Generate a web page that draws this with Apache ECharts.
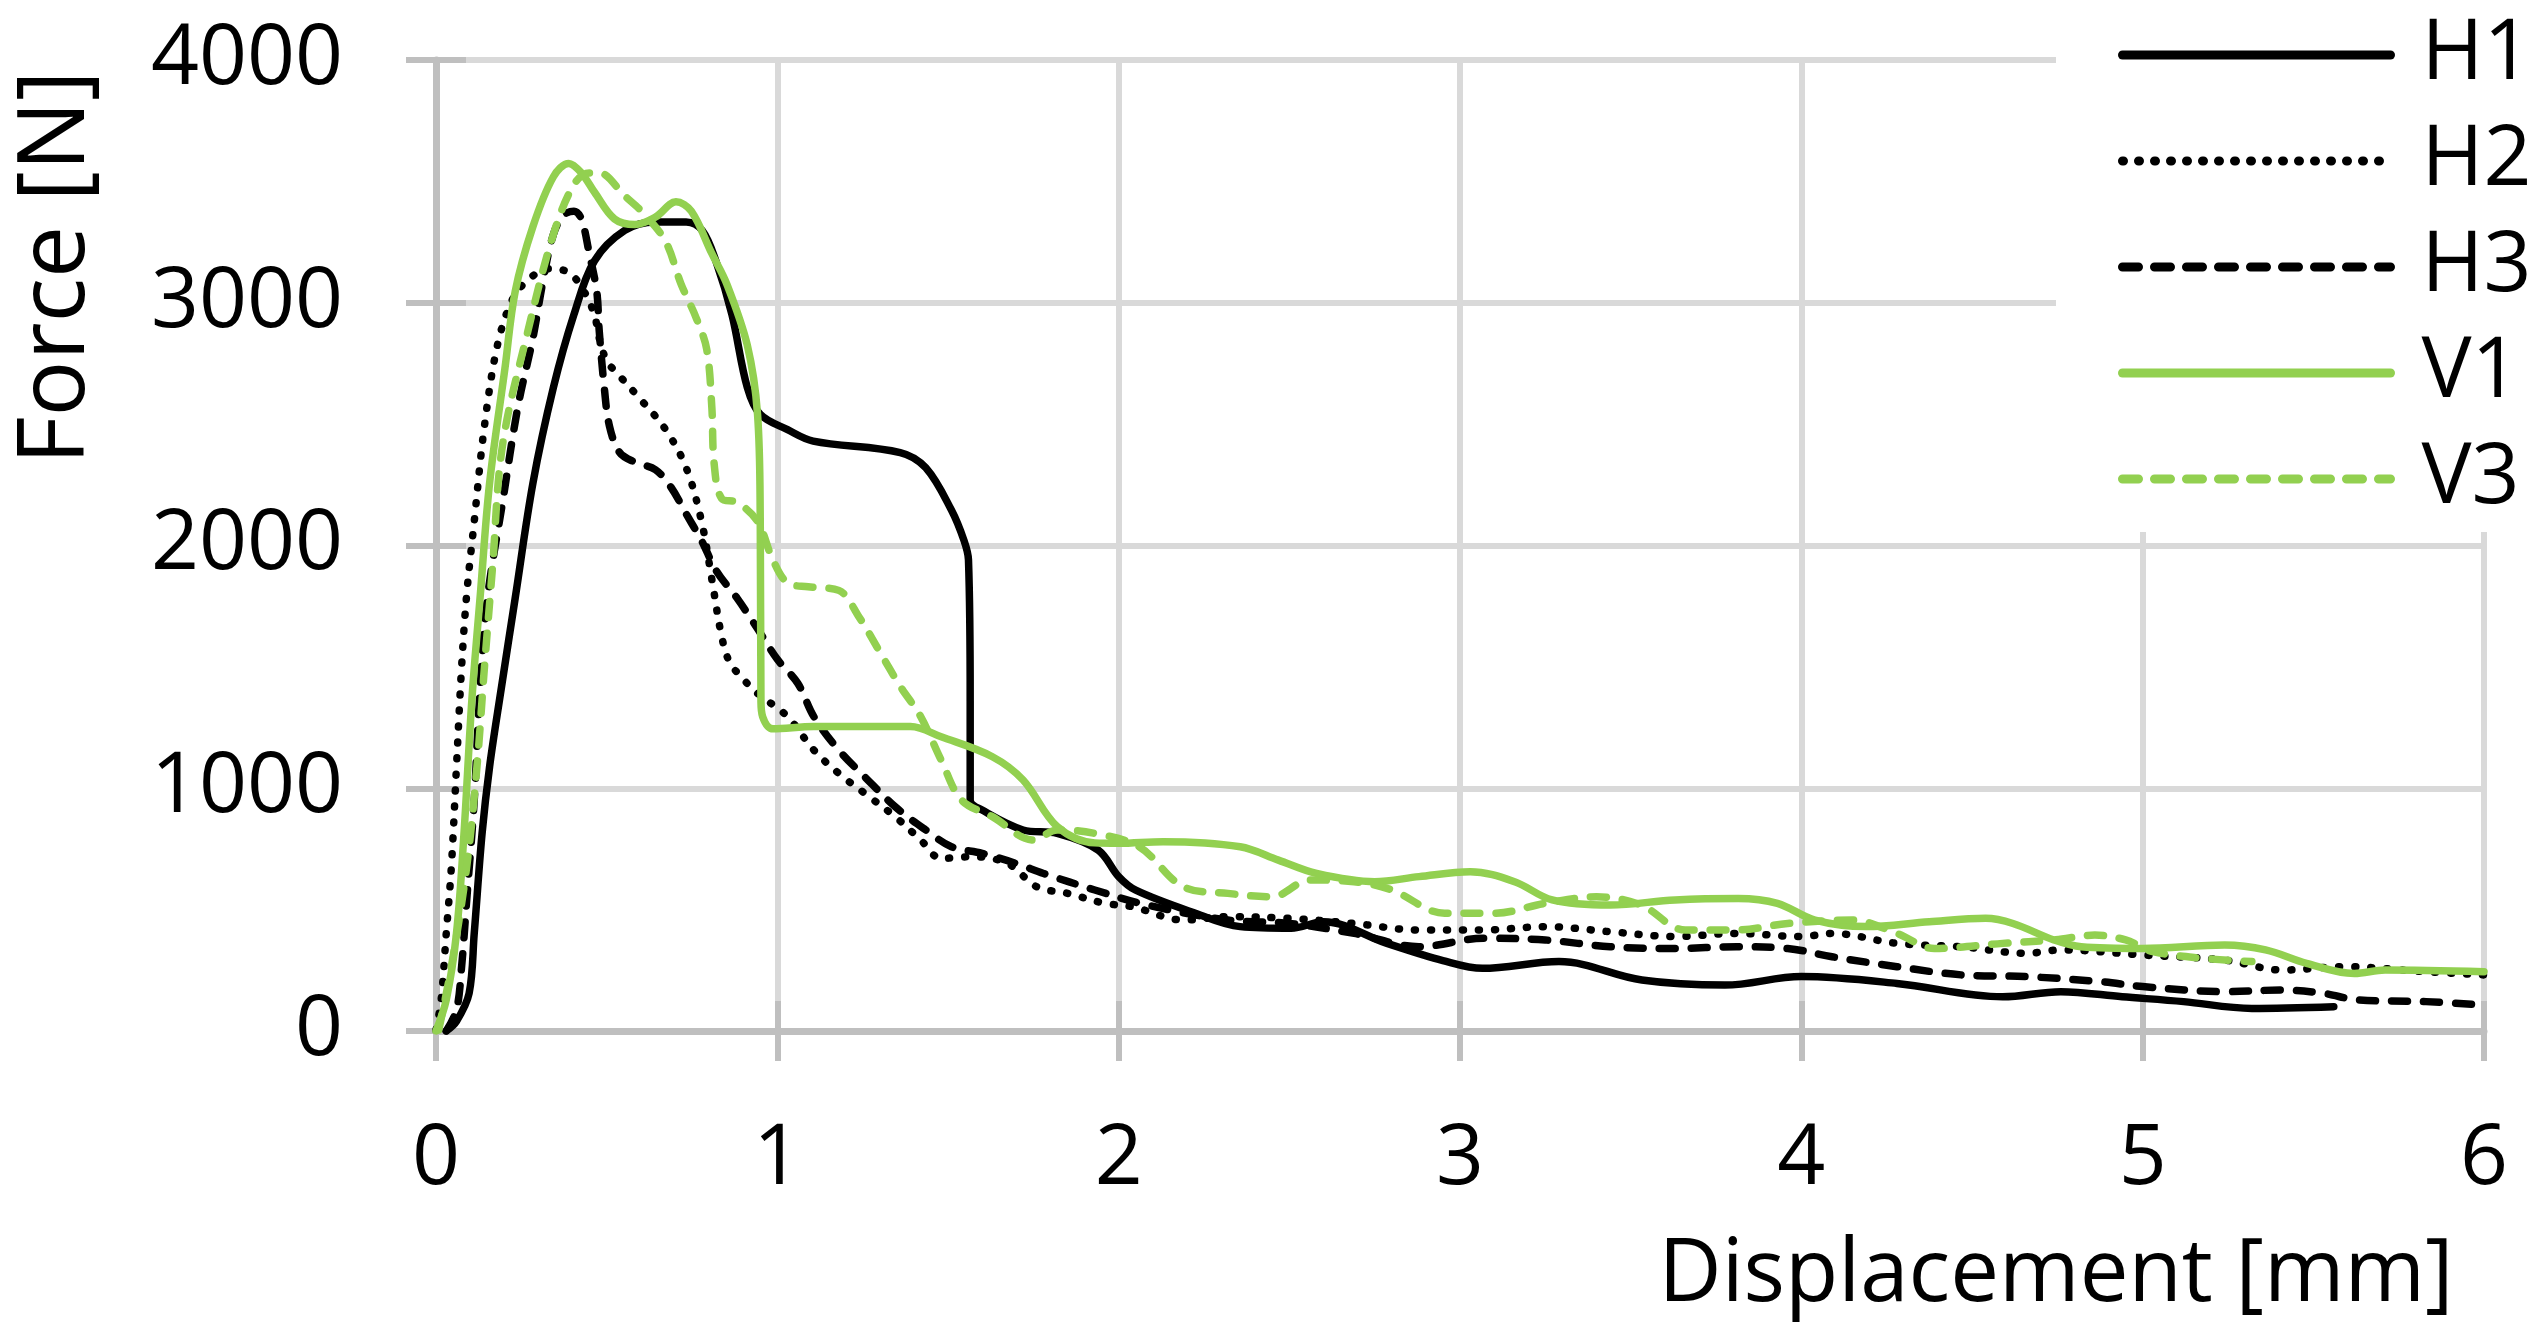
<!DOCTYPE html>
<html>
<head>
<meta charset="utf-8">
<script src="https://cdn.jsdelivr.net/npm/echarts@6/dist/echarts.min.js"></script>
<style>
html,body{margin:0;padding:0;background:#fff;}
#chart{width:2534px;height:1327px;}
</style>
</head>
<body>
<div id="chart"></div>
<script>
// ---- data (displacement [mm], force [N]) ----
const seriesNames = ['H1', 'H2', 'H3', 'V1', 'V3'];
const xTicks = [0, 1, 2, 3, 4, 5, 6];
const yTicks = [0, 1000, 2000, 3000, 4000];

const h1Data = [
  [0.03,0],[0.06,40],[0.097,155],[0.112,402],[0.135,814],[0.157,1089],[0.19,1400],[0.232,1783],[0.284,2257],
  [0.344,2651],[0.404,2951],[0.464,3172],[0.553,3298],[0.643,3333],[0.733,3333],[0.78,3298],[0.82,3172],
  [0.867,2951],[0.912,2651],[0.95,2540],[1.03,2477],[1.105,2430],[1.36,2383],[1.435,2320],[1.51,2146],
  [1.547,2020],[1.56,1941],[1.565,1360],[1.565,951],[1.60,910],[1.72,828],[1.82,814],[1.94,745],[2.0,636],
  [2.05,580],[2.225,485],[2.356,430],[2.505,423],[2.6,450],[2.786,361],[2.95,290],[3.066,258],[3.29,286],
  [3.533,210],[3.776,189],[4.0,224],[4.28,196],[4.59,141],[4.76,162],[4.94,141],[5.12,121],[5.32,93],[5.56,100]
];
const h2Data = [
  [0,4],[0.015,128],[0.03,402],[0.045,677],[0.06,1089],[0.075,1500],[0.09,1800],[0.112,2099],[0.142,2493],
  [0.18,2825],[0.224,3014],[0.269,3093],[0.329,3140],[0.389,3125],[0.434,3046],[0.464,2951],[0.478,2856],
  [0.5,2762],[0.538,2698],[0.598,2604],[0.673,2477],[0.733,2320],[0.778,2099],[0.808,1862],[0.837,1625],
  [0.86,1520],[0.9,1450],[0.942,1391],[1.03,1295],[1.107,1157],[1.18,1061],[1.256,979],[1.345,883],
  [1.42,787],[1.48,711],[1.57,718],[1.675,690],[1.76,594],[1.85,567],[1.96,526],[2.04,512],[2.19,457],
  [2.32,471],[2.5,464],[2.69,443],[2.88,416],[3.07,416],[3.25,430],[3.44,409],[3.63,389],[3.81,402],
  [4.0,389],[4.09,402],[4.28,361],[4.47,347],[4.66,320],[4.76,334],[5.0,313],[5.24,292],[5.41,251],
  [5.59,265],[5.83,244],[6.0,231]
];
const h3Data = [
  [0.03,0],[0.06,87],[0.075,265],[0.09,540],[0.112,951],[0.127,1360],[0.15,1775],[0.195,2178],[0.24,2572],
  [0.284,2856],[0.314,3093],[0.344,3282],[0.374,3361],[0.404,3377],[0.426,3345],[0.449,3203],[0.471,3046],
  [0.478,2888],[0.493,2651],[0.508,2493],[0.538,2383],[0.583,2343],[0.643,2312],[0.688,2241],[0.733,2130],
  [0.778,2020],[0.822,1894],[0.882,1783],[0.942,1657],[1.0,1531],[1.06,1432],[1.107,1295],[1.18,1157],
  [1.256,1047],[1.345,924],[1.435,828],[1.51,759],[1.6,732],[1.70,690],[1.78,649],[1.93,581],[2.08,520],
  [2.32,457],[2.5,443],[2.69,402],[2.88,347],[3.07,382],[3.25,375],[3.44,347],[3.63,340],[3.81,347],
  [3.96,340],[4.09,306],[4.28,265],[4.47,231],[4.66,224],[4.88,203],[5.0,183],[5.24,162],[5.41,169],
  [5.53,155],[5.63,128],[5.83,121],[6.0,107]
];
const v1Data = [
  [0,0],[0.03,128],[0.06,402],[0.082,814],[0.105,1363],[0.13,1800],[0.157,2257],[0.202,2730],[0.232,3046],
  [0.284,3314],[0.344,3519],[0.389,3574],[0.426,3535],[0.464,3456],[0.523,3345],[0.583,3322],[0.643,3353],
  [0.703,3416],[0.748,3377],[0.808,3203],[0.852,3077],[0.912,2825],[0.942,2541],[0.95,2099],[0.952,1360],
  [0.957,1295],[0.987,1245],[1.107,1254],[1.39,1254],[1.48,1212],[1.63,1130],[1.72,1034],[1.82,842],
  [1.93,775],[2.0,773],[2.13,780],[2.356,759],[2.468,704],[2.58,649],[2.75,615],[2.88,636],[3.03,656],
  [3.16,615],[3.27,540],[3.44,519],[3.63,540],[3.815,546],[3.93,526],[4.04,457],[4.19,430],[4.375,450],
  [4.54,464],[4.62,443],[4.74,375],[4.82,347],[5.0,340],[5.24,354],[5.36,334],[5.48,279],[5.62,237],
  [5.71,251],[6.0,244]
];
const v3Data = [
  [0.008,4],[0.045,265],[0.09,677],[0.12,1089],[0.142,1500],[0.165,1900],[0.195,2414],[0.27,2888],
  [0.344,3282],[0.404,3487],[0.449,3535],[0.478,3535],[0.553,3440],[0.613,3361],[0.673,3251],[0.718,3077],
  [0.763,2935],[0.793,2809],[0.808,2572],[0.815,2335],[0.837,2193],[0.882,2178],[0.942,2099],[0.987,1941],
  [1.03,1846],[1.09,1830],[1.18,1815],[1.24,1704],[1.30,1562],[1.36,1420],[1.42,1295],[1.48,1116],
  [1.54,951],[1.63,883],[1.75,787],[1.82,828],[1.93,814],[2.06,759],[2.19,594],[2.32,567],[2.45,553],
  [2.56,622],[2.69,615],[2.8,581],[2.955,485],[3.1,485],[3.25,526],[3.4,553],[3.53,519],[3.66,416],
  [3.81,416],[3.96,443],[4.15,457],[4.28,402],[4.39,340],[4.59,361],[4.74,375],[4.86,395],[4.95,375],
  [5.03,327],[5.18,299],[5.32,286]
];

// ---- chart ----
const FONT = '"Open Sans", "Liberation Sans", sans-serif';
const BLACK = '#000000';
const GREEN = '#92d050';
const AXIS_GRAY = '#bfbfbf';
const GRID_GRAY = '#d9d9d9';
const W = 7.5;

function mkSeries(name, data, color, dash) {
  return {
    name: name,
    type: 'line',
    data: data,
    symbol: 'none',
    showSymbol: false,
    smooth: 0.35,
    lineStyle: { color: color, width: W, type: dash, cap: 'round', join: 'round' },
    itemStyle: { color: color },
    emphasis: { disabled: true },
    animation: false
  };
}

const chart = echarts.init(document.getElementById('chart'), null, { renderer: 'canvas' });
chart.setOption({
  backgroundColor: '#ffffff',
  animation: false,
  grid: { left: 436, right: 50, top: 60, bottom: 296, containLabel: false },
  xAxis: [{
    type: 'value', min: xTicks[0], max: xTicks[xTicks.length - 1], interval: 1,
    name: 'Displacement [mm]',
    nameLocation: 'middle',
    nameGap: 202,
    nameTextStyle: { fontFamily: FONT, fontSize: 87, color: BLACK, lineHeight: 87, padding: [0, 0, 0, 1192] },
    axisLine: { show: true, onZero: false, lineStyle: { color: AXIS_GRAY, width: 7 } },
    axisTick: { show: true, length: 30, lineStyle: { color: AXIS_GRAY, width: 6 } },
    axisLabel: { fontFamily: FONT, fontSize: 84, color: BLACK, margin: 87, lineHeight: 84 },
    splitLine: { show: true, lineStyle: { color: GRID_GRAY, width: 6 } }
  }, {
    type: 'value', min: xTicks[0], max: xTicks[xTicks.length - 1], interval: 1,
    position: 'bottom',
    axisLine: { show: false },
    axisTick: { show: true, inside: true, length: 30, lineStyle: { color: AXIS_GRAY, width: 6 } },
    axisLabel: { show: false },
    splitLine: { show: false }
  }],
  yAxis: [{
    type: 'value', min: yTicks[0], max: yTicks[yTicks.length - 1], interval: 1000,
    name: 'Force [N]',
    nameLocation: 'middle',
    nameRotate: 90,
    nameGap: 332,
    nameTextStyle: { fontFamily: FONT, fontSize: 93, color: BLACK, lineHeight: 93, padding: [0, 0, 0, 556] },
    axisLine: { show: true, lineStyle: { color: AXIS_GRAY, width: 7 } },
    axisTick: { show: true, length: 30, lineStyle: { color: AXIS_GRAY, width: 6 } },
    axisLabel: { fontFamily: FONT, fontSize: 84, color: BLACK, margin: 93, formatter: function (v) { return String(v); } },
    splitLine: { show: true, lineStyle: { color: GRID_GRAY, width: 6 } }
  }, {
    type: 'value', min: yTicks[0], max: yTicks[yTicks.length - 1], interval: 1000,
    position: 'left',
    axisLine: { show: false },
    axisTick: { show: true, inside: true, length: 30, lineStyle: { color: AXIS_GRAY, width: 6 } },
    axisLabel: { show: false },
    splitLine: { show: false }
  }],
  legend: {
    data: seriesNames,
    orient: 'vertical',
    left: 2056, top: 0,
    padding: [13, 0, 11, 62],
    backgroundColor: '#ffffff',
    itemWidth: 268,
    itemHeight: 20,
    itemGap: 22,
    selectedMode: false,
    itemStyle: { opacity: 0 },
    lineStyle: { width: 9, cap: 'round' },
    textStyle: { fontFamily: FONT, fontSize: 84, color: BLACK, lineHeight: 84, padding: [0, 0, 0, 26] }
  },
  series: [
    mkSeries(seriesNames[0], h1Data, BLACK, 'solid'),
    mkSeries(seriesNames[1], h2Data, BLACK, [1, 15]),
    mkSeries(seriesNames[2], h3Data, BLACK, [16, 16]),
    mkSeries(seriesNames[3], v1Data, GREEN, 'solid'),
    mkSeries(seriesNames[4], v3Data, GREEN, [16, 16])
  ]
});
</script>
</body>
</html>
